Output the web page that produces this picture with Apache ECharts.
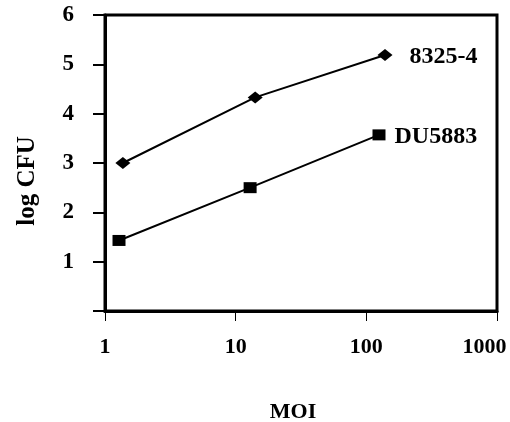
<!DOCTYPE html>
<html>
<head>
<meta charset="utf-8">
<script src="https://cdn.jsdelivr.net/npm/echarts@6/dist/echarts.min.js"></script>
<style>
  html, body { margin: 0; padding: 0; background: #fff; }
  #chart { width: 510px; height: 422px; }
</style>
</head>
<body>
<div id="chart"></div>
<script>
// values
var moi8325 = [1.37, 14.1, 139];
var cfu8325 = [3.0, 4.33, 5.19];
var moiDU = [1.28, 12.9, 125];
var cfuDU = [1.43, 2.5, 3.57];
var seriesNames = ['8325-4', 'DU5883'];
var yTicks = [0, 1, 2, 3, 4, 5, 6];
var xMax = 1000;

var font = 'Liberation Serif';

function pairs(xs, ys) {
  return xs.map(function (x, i) { return [x, ys[i]]; });
}

function lastLabel(data, offset) {
  return data.map(function (d, i) {
    if (i !== data.length - 1) return d;
    return {
      value: d,
      label: {
        show: true, position: 'right', offset: offset,
        formatter: '{a}', color: '#000',
        fontFamily: font, fontWeight: 'bold', fontSize: 24
      }
    };
  });
}

var myChart = echarts.init(document.getElementById('chart'));

var option = {
  animation: false,
  grid: {
    left: 105, right: 13, top: 15, bottom: 111,
    outerBoundsMode: 'none',
    show: true, borderColor: '#000', borderWidth: 3
  },
  xAxis: {
    type: 'log', logBase: 10, min: 1, max: xMax,
    name: 'MOI', nameLocation: 'middle', nameGap: 90,
    nameTextStyle: { fontFamily: font, fontWeight: 'bold', fontSize: 22, color: '#000', padding: [0, 16, 0, 0] },
    axisLine: { lineStyle: { color: '#000', width: 3 } },
    axisTick: { show: true, inside: false, length: 10, lineStyle: { color: '#000', width: 1 } },
    minorTick: { show: false },
    splitLine: { show: false },
    axisLabel: {
      margin: 25, fontFamily: font, fontWeight: 'bold', fontSize: 22, color: '#000',
      formatter: function (v) {
        var s = String(Math.round(v));
        return Math.round(v) === xMax ? '{last|' + s + '}' : s;
      },
      rich: {
        last: { fontFamily: font, fontWeight: 'bold', fontSize: 22, color: '#000', padding: [0, 25, 0, 0] }
      }
    }
  },
  yAxis: {
    type: 'value', min: yTicks[0], max: yTicks[yTicks.length - 1], interval: 1,
    name: 'log CFU', nameLocation: 'middle', nameRotate: 90, nameGap: 65,
    nameTextStyle: { fontFamily: font, fontWeight: 'bold', fontSize: 25, color: '#000', padding: [0, 36, 0, 0] },
    axisLine: { show: true, lineStyle: { color: '#000', width: 3 } },
    axisTick: { show: true, inside: false, length: 12, lineStyle: { color: '#000', width: 2 } },
    splitLine: { show: false },
    axisLabel: {
      margin: 31, fontFamily: font, fontWeight: 'bold', fontSize: 23, color: '#000',
      padding: [6, 0, 0, 0],
      formatter: function (v) { return v === 0 ? '' : String(v); }
    }
  },
  series: [
    {
      name: seriesNames[0], type: 'line',
      data: lastLabel(pairs(moi8325, cfu8325), [12, 2]),
      symbol: 'diamond', symbolSize: [15, 12],
      itemStyle: { color: '#000' },
      lineStyle: { color: '#000', width: 2 }
    },
    {
      name: seriesNames[1], type: 'line',
      data: lastLabel(pairs(moiDU, cfuDU), [4, 2]),
      symbol: 'rect', symbolSize: [13, 11],
      itemStyle: { color: '#000' },
      lineStyle: { color: '#000', width: 2 }
    }
  ]
};

myChart.setOption(option);
</script>
</body>
</html>
